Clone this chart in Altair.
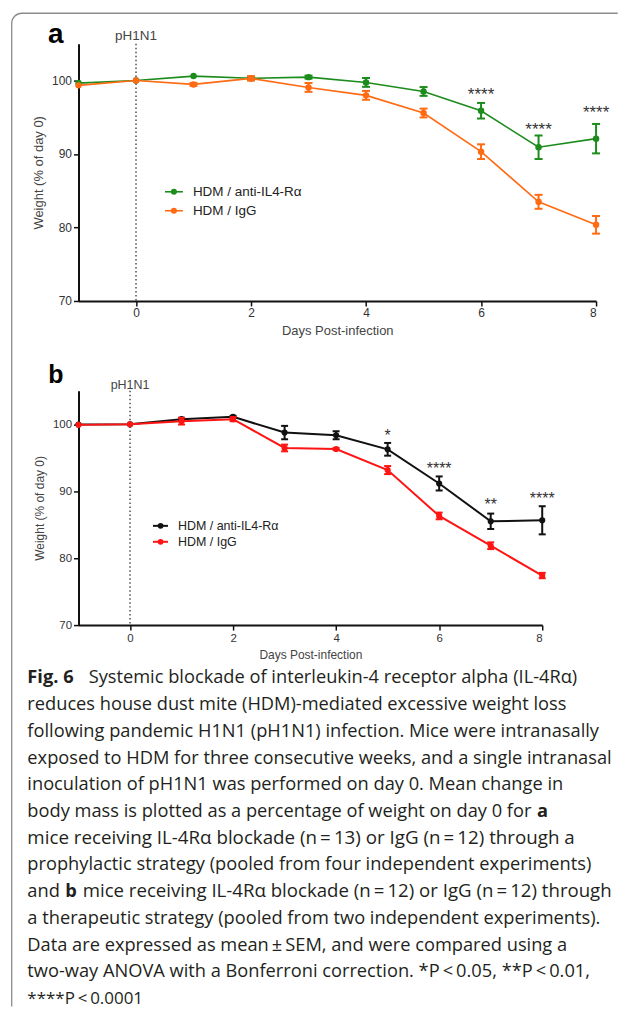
import altair as alt
import pandas as pd

# ---------------- data ----------------
days = [-1, 0, 1, 2, 3, 4, 5, 6, 7, 8]
series_names = ["HDM / anti-IL4-Rα", "HDM / IgG"]

a_anti_mean = [99.64, 100.0, 100.59, 100.3, 100.45, 99.73, 98.5, 95.88, 90.91, 92.08]
a_anti_sem = [0.0, 0.0, 0.0, 0.2, 0.2, 0.6, 0.6, 1.06, 1.6, 2.0]
a_igg_mean = [99.33, 100.0, 99.46, 100.28, 99.05, 97.97, 95.57, 90.31, 83.49, 80.36]
a_igg_sem = [0.0, 0.0, 0.2, 0.3, 0.6, 0.6, 0.6, 1.0, 0.95, 1.2]

b_anti_mean = [99.95, 100.0, 100.75, 101.1, 98.75, 98.35, 96.25, 91.15, 85.5, 85.65]
b_anti_sem = [0.0, 0.0, 0.2, 0.15, 1.0, 0.6, 0.95, 1.05, 1.15, 2.1]
b_igg_mean = [99.9, 100.0, 100.45, 100.75, 96.45, 96.3, 93.15, 86.3, 81.85, 77.4]
b_igg_sem = [0.0, 0.0, 0.5, 0.3, 0.5, 0.15, 0.6, 0.5, 0.5, 0.4]

a_star_days = [6, 7, 8]
a_star_text = ["****", "****", "****"]
a_star_y = [98.65, 93.9, 96.15]

b_star_days = [5, 6, 7, 8]
b_star_text = ["*", "****", "**", "****"]
b_star_y = [98.9, 93.9, 88.5, 89.4]

x_ticks = [0, 2, 4, 6, 8]
y_ticks = [70, 80, 90, 100]
infection_day = [0]

colors_a = ["#1c8c1c", "#ff6a13"]
colors_b = ["#111111", "#ff1414"]

caption_rows = [0, 0, 1, 2, 3, 4, 5, 5, 6, 7, 8, 8, 8, 9, 10, 11, 12]
caption_keys = ["fig", "sys", "left", "left", "left", "left", "left", "a", "l7",
                "left", "left", "b", "mice", "left", "left", "left", "last"]
caption_text = [
    "Fig. 6",
    "Systemic blockade of interleukin-4 receptor alpha (IL-4Rα)",
    "reduces house dust mite (HDM)-mediated excessive weight loss",
    "following pandemic H1N1 (pH1N1) infection. Mice were intranasally",
    "exposed to HDM for three consecutive weeks, and a single intranasal",
    "inoculation of pH1N1 was performed on day 0. Mean change in",
    "body mass is plotted as a percentage of weight on day 0 for",
    "a",
    "mice receiving IL-4Rα blockade (n\u2009=\u200913) or IgG (n\u2009=\u200912) through a",
    "prophylactic strategy (pooled from four independent experiments)",
    "and",
    "b",
    "mice receiving IL-4Rα blockade (n\u2009=\u200912) or IgG (n\u2009=\u200912) through",
    "a therapeutic strategy (pooled from two independent experiments).",
    "Data are expressed as mean\u2009±\u2009SEM, and were compared using a",
    "two-way ANOVA with a Bonferroni correction. *P\u2009<\u20090.05, **P\u2009<\u20090.01,",
    "****P\u2009<\u20090.0001",
]

# ---------------- layout (pixels) ----------------
FONT = "Liberation Sans"
CAP_FONT = "Open Sans"
A_W, A_H = 519, 258
B_W, B_H = 465, 235
GAP = 90
ORIGIN_X, A_TOP = 77.3, 41.5
B_TOP = A_TOP + A_H + GAP
C_TOP = B_TOP + B_H + GAP


def px(page_x):
    return page_x - ORIGIN_X


def make_panel(label, means, sems, colors, star_days, star_text, star_y, W, H, st, top):
    xs = alt.Scale(domain=[-1, 8], nice=False, zero=False)
    ys = alt.Scale(domain=[70, 105], nice=False, zero=False)
    xaxis = alt.Axis(values=x_ticks, title="Days Post-infection", grid=False, format="d",
                     domainColor="#111111", domainWidth=2, tickColor="#111111", tickWidth=1.5,
                     tickSize=5, labelFont=FONT, labelFontSize=st["tick_fs"], labelColor="#333333",
                     labelPadding=2, titleFont=FONT, titleFontSize=st["title_fs"],
                     titleFontWeight="normal", titleColor="#444444", titlePadding=st["xtp"])
    yaxis = alt.Axis(values=y_ticks, title="Weight (% of day 0)", grid=False, format="d",
                     domainColor="#111111", domainWidth=2, tickColor="#111111", tickWidth=1.5,
                     tickSize=5, labelFont=FONT, labelFontSize=st["tick_fs"], labelColor="#333333",
                     labelPadding=2, titleFont=FONT, titleFontSize=st["title_fs"],
                     titleFontWeight="normal", titleColor="#444444", titlePadding=st["ytp"])

    def X(f):
        return alt.X(f, type="quantitative", scale=xs, axis=xaxis)

    def Y(f):
        return alt.Y(f, type="quantitative", scale=ys, axis=yaxis)

    layers = []
    inf = alt.Chart(pd.DataFrame({"day": infection_day}))
    layers.append(inf.mark_rule(strokeDash=[1.5, 2.5], strokeWidth=1.3, color="#333333").encode(
        x=X("day"), y=alt.value(0), y2=alt.value(H)))
    layers.append(inf.mark_text(text="pH1N1", font=FONT, fontSize=st["ph_fs"], color="#444444",
                                baseline="middle").encode(x=X("day"), y=alt.value(st["ph_y"] - top)))

    for name, m, s, col in zip(series_names, means, sems, colors):
        df = pd.DataFrame({"day": days, "mean": m, "sem": s})
        df["lo"] = df["mean"] - df["sem"]
        df["hi"] = df["mean"] + df["sem"]
        base = alt.Chart(df)
        eb = base.transform_filter("datum.sem > 0")
        layers += [
            base.mark_line(color=col, strokeWidth=st["lw"]).encode(x=X("day"), y=Y("mean")),
            eb.mark_rule(color=col, strokeWidth=2).encode(x=X("day"), y=Y("lo"), y2="hi"),
            eb.mark_tick(color=col, orient="horizontal", size=st["cap"], thickness=2, opacity=1).encode(
                x=X("day"), y=Y("lo")),
            eb.mark_tick(color=col, orient="horizontal", size=st["cap"], thickness=2, opacity=1).encode(
                x=X("day"), y=Y("hi")),
            base.mark_circle(color=col, size=st["pt"], opacity=1).encode(x=X("day"), y=Y("mean")),
        ]

    stars = alt.Chart(pd.DataFrame({"day": star_days, "y": star_y, "t": star_text}))
    layers.append(stars.mark_text(font=FONT, fontSize=st["star_fs"], color="#333333",
                                  baseline="alphabetic", dy=st["star_dy"]).encode(
        x=X("day"), y=Y("y"), text="t:N"))

    leg_df = pd.DataFrame({"series": series_names, "color": colors})
    for i, (name, col) in enumerate(zip(series_names, colors)):
        lb = alt.Chart(leg_df).transform_filter(alt.datum.series == name)
        ly = st["leg_y"][i] - top
        layers += [
            lb.mark_rule(color=col, strokeWidth=st["lw"]).encode(
                x=alt.value(px(st["leg_x1"])), x2=alt.value(px(st["leg_x2"])), y=alt.value(ly)),
            lb.mark_circle(color=col, size=st["pt"] - 5, opacity=1).encode(
                x=alt.value(px(st["leg_dot"])), y=alt.value(ly)),
            lb.mark_text(align="left", baseline="middle", font=FONT, fontSize=st["leg_fs"],
                         color="#222222").encode(x=alt.value(px(st["leg_tx"])), y=alt.value(ly),
                                                 text="series:N"),
        ]

    lab = alt.Chart(pd.DataFrame({"panel": [label]}))
    layers.append(lab.mark_text(font=FONT, fontWeight="bold", fontSize=st["lab_fs"], color="#000000",
                                align="center", baseline="middle").encode(
        x=alt.value(px(st["lab_x"])), y=alt.value(st["lab_y"] - top), text="panel:N"))

    if st.get("frame"):
        fx, fy = px(10.3), 11 - top
        path = (f"M{fx},{1007 - top} L{fx},{fy + 10} A10,10 0 0,1 {fx + 10},{fy} "
                f"L{px(618)},{fy}")
        layers.append(lab.mark_point(shape=path, size=4, filled=False, color="#8c8c8c",
                                     strokeWidth=1.3, opacity=1).encode(
            x=alt.value(0), y=alt.value(0)))

    return alt.layer(*layers).properties(width=W, height=H)


st_a = dict(tick_fs=12, title_fs=13, xtp=6, ytp=6, ph_fs=13.5, ph_y=34, lw=1.6, cap=8, pt=42,
            star_fs=17, star_dy=9.5, leg_y=[190, 209], leg_x1=164, leg_x2=182, leg_dot=173,
            leg_tx=192, leg_fs=13.5, lab_fs=28, lab_x=54.5, lab_y=33, frame=True)
st_b = dict(tick_fs=11.5, title_fs=12, xtp=6, ytp=6, ph_fs=12.5, ph_y=384, lw=2, cap=7, pt=38,
            star_fs=16, star_dy=9, leg_y=[525, 541], leg_x1=152, leg_x2=167, leg_dot=159.6,
            leg_tx=177, leg_fs=12.5, lab_fs=25, lab_x=54.5, lab_y=373.5)

panel_a = make_panel("a", [a_anti_mean, a_igg_mean], [a_anti_sem, a_igg_sem], colors_a,
                     a_star_days, a_star_text, a_star_y, A_W, A_H, st_a, A_TOP)
panel_b = make_panel("b", [b_anti_mean, b_igg_mean], [b_anti_sem, b_igg_sem], colors_b,
                     b_star_days, b_star_text, b_star_y, B_W, B_H, st_b, B_TOP)

# ---------------- caption ----------------
cap_df = pd.DataFrame({"row": caption_rows, "key": caption_keys, "text": caption_text})
# key -> (page x, font size, bold)
cap_style = {
    "left": (26, 18.3, False), "fig": (26, 18.3, True), "sys": (87.5, 18.3, False),
    "a": (537, 18.3, True), "l7": (26, 18.8, False), "b": (64, 18.3, True),
    "mice": (81.5, 18.7, False), "last": (26, 17.0, False),
}
cap_y = alt.Y("row:Q", scale=alt.Scale(domain=[0, 12], range=[683 - C_TOP, 1004.6 - C_TOP]), axis=None)
cap_layers = []
for key, (xv, fs, bold) in cap_style.items():
    cap_layers.append(
        alt.Chart(cap_df).transform_filter(alt.datum.key == key).mark_text(
            align="left", baseline="alphabetic", font=CAP_FONT, fontSize=fs, color="#231f20",
            fontWeight="bold" if bold else "normal").encode(
            x=alt.value(px(xv)), y=cap_y, text="text:N"))
caption = alt.layer(*cap_layers).properties(width=A_W, height=270)

chart = alt.vconcat(panel_a, panel_b, caption, spacing=GAP, bounds="flush").properties(
    padding={"left": -0.3, "top": 0.4, "right": 0, "bottom": 0}
).configure(font=FONT).configure_view(stroke="transparent")

chart.save("out.html", embed_options={"renderer": "svg", "actions": False})
